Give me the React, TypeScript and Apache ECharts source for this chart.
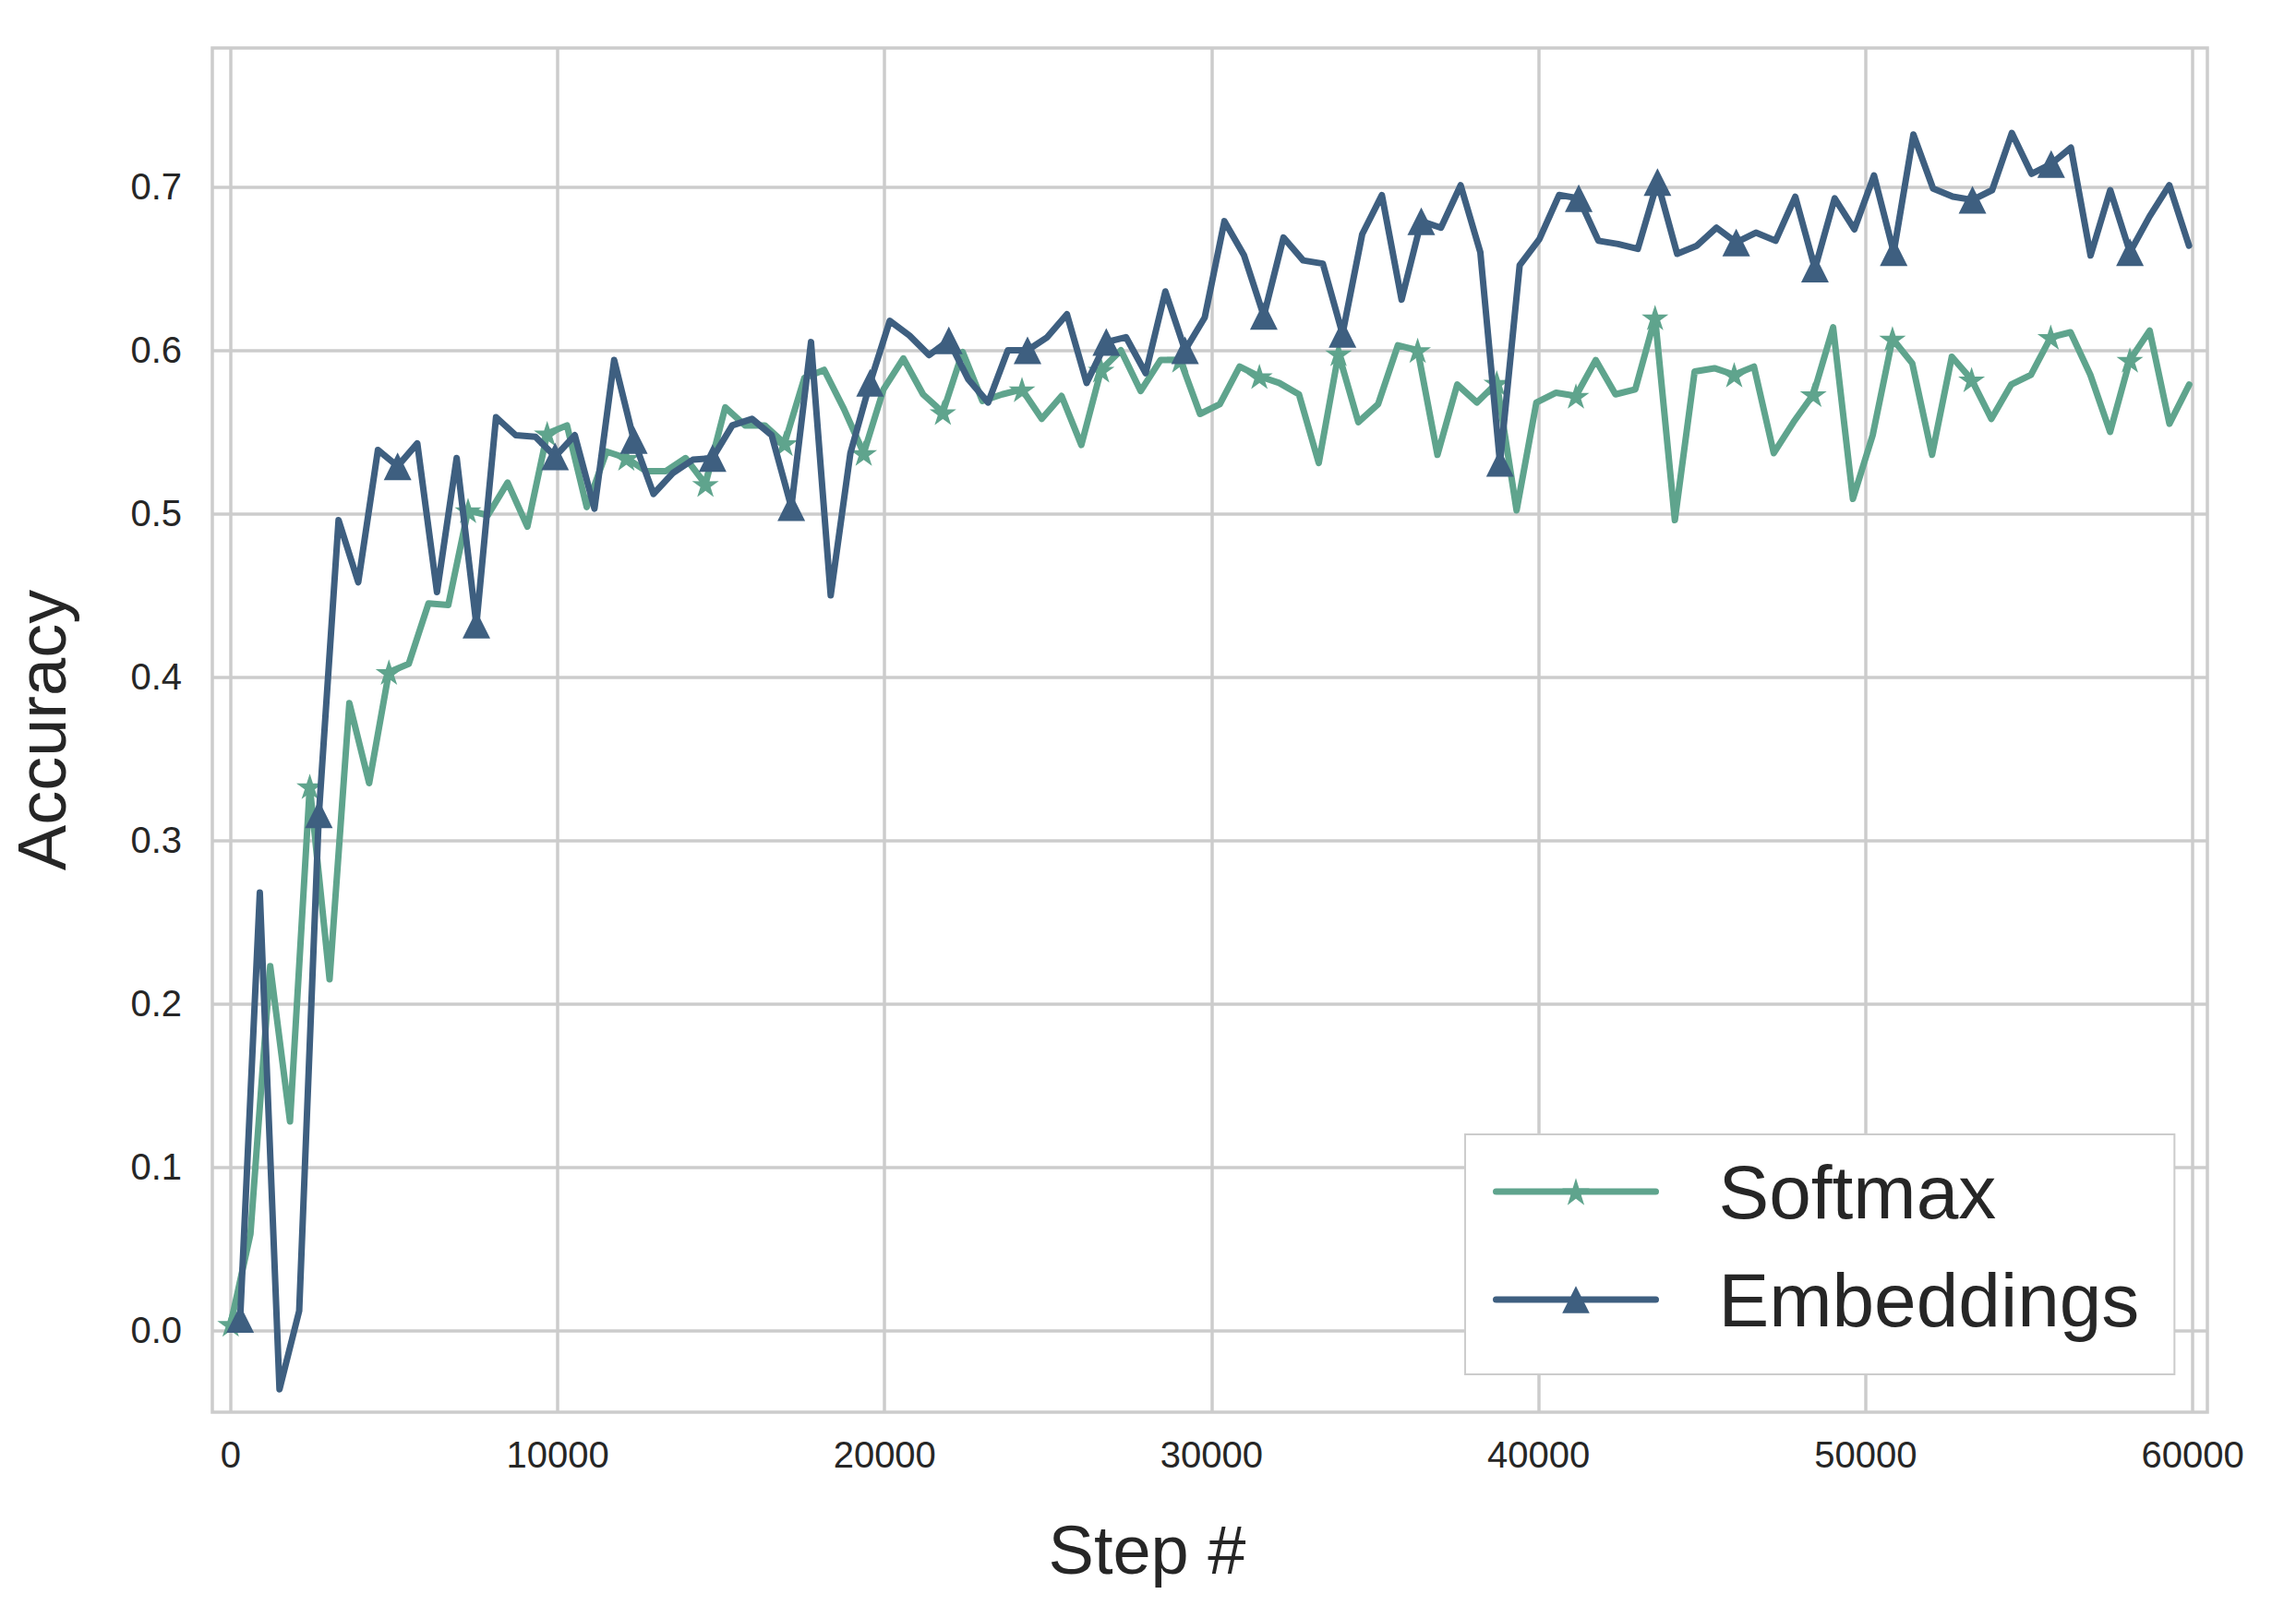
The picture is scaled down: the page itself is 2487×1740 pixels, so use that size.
import React, { useEffect, useRef } from 'react';
import * as echarts from 'echarts';

// Logged training steps: first logged step and logging stride for each run
const softmaxFirstStep = 0;
const softmaxStride = 605;
const embeddingsFirstStep = 290;
const embeddingsStride = 602;

const seriesNames = ['Softmax', 'Embeddings'];

const softmaxAccuracy = [
  0.004, 0.059, 0.223, 0.128, 0.333, 0.215, 0.384, 0.335, 0.403, 0.408,
  0.445, 0.444, 0.502, 0.499, 0.519, 0.492, 0.549, 0.554, 0.504, 0.538,
  0.534, 0.526, 0.526, 0.534, 0.518, 0.565, 0.554, 0.554, 0.543, 0.583,
  0.588, 0.564, 0.537, 0.576, 0.595, 0.573, 0.562, 0.599, 0.569, 0.573,
  0.576, 0.558, 0.572, 0.542, 0.588, 0.600, 0.575, 0.594, 0.594, 0.561,
  0.567, 0.590, 0.584, 0.580, 0.573, 0.531, 0.598, 0.556, 0.567, 0.603,
  0.600, 0.536, 0.579, 0.568, 0.580, 0.502, 0.568, 0.574, 0.572, 0.594,
  0.573, 0.576, 0.620, 0.496, 0.587, 0.589, 0.585, 0.590, 0.537, 0.556,
  0.573, 0.614, 0.509, 0.548, 0.607, 0.592, 0.536, 0.596, 0.582, 0.558,
  0.579, 0.585, 0.608, 0.611, 0.585, 0.550, 0.594, 0.612, 0.555, 0.579,
];

const embeddingsAccuracy = [
  0.007, 0.268, -0.036, 0.012, 0.316, 0.496, 0.458, 0.539, 0.529, 0.543,
  0.452, 0.534, 0.432, 0.559, 0.548, 0.547, 0.535, 0.548, 0.503, 0.594,
  0.545, 0.512, 0.525, 0.533, 0.534, 0.554, 0.558, 0.548, 0.504, 0.605,
  0.450, 0.537, 0.580, 0.618, 0.609, 0.597, 0.606, 0.582, 0.568, 0.600,
  0.600, 0.608, 0.622, 0.580, 0.605, 0.608, 0.586, 0.636, 0.600, 0.620,
  0.679, 0.658, 0.621, 0.669, 0.655, 0.653, 0.610, 0.671, 0.695, 0.631,
  0.679, 0.675, 0.701, 0.660, 0.531, 0.652, 0.668, 0.695, 0.693, 0.667,
  0.665, 0.662, 0.703, 0.659, 0.664, 0.675, 0.666, 0.672, 0.667, 0.694,
  0.650, 0.693, 0.674, 0.707, 0.660, 0.732, 0.699, 0.694, 0.692, 0.698,
  0.733, 0.708, 0.714, 0.724, 0.658, 0.698, 0.660, 0.682, 0.701, 0.664,
];

const xTicks = [0, 10000, 20000, 30000, 40000, 50000, 60000];
const yTicks = [0, 0.1, 0.2, 0.3, 0.4, 0.5, 0.6, 0.7];

const FONT = '"Liberation Sans", Arial, Helvetica, sans-serif';
const TEXT = '#262626';
const GRIDC = '#cccccc';
const GREEN = '#5fa48d';
const BLUE = '#3e5f80';
const MARK_EVERY = 4;
const LINE_W = 7;

const STAR =
  'path://M50 0 L61.17 34.63 L97.55 34.55 L68.07 55.87 L79.39 90.45 L50 69 L20.61 90.45 L31.93 55.87 L2.45 34.55 L38.83 34.63 Z';

function toPoints(values: number[], first: number, stride: number) {
  return values.map((v, i) => [first + i * stride, v]);
}

export default function App() {
  const ref = useRef<HTMLDivElement>(null);
  useEffect(() => {
    document.body.style.margin = '0';
    const chart = echarts.init(ref.current as HTMLDivElement, null, { renderer: 'svg' });
    const option: any = {
      animation: false,
      backgroundColor: '#ffffff',
      grid: {
        left: 230,
        top: 52,
        width: 2161,
        height: 1478,
        show: true,
        borderColor: GRIDC,
        borderWidth: 3.5,
        backgroundColor: 'transparent',
      },
      xAxis: {
        type: 'value',
        min: -560,
        max: 60450,
        name: 'Step #',
        nameLocation: 'middle',
        nameGap: 112,
        nameTextStyle: { fontSize: 74, fontFamily: FONT, color: TEXT, padding: [0, 136, 0, 0] },
        axisLine: { show: false },
        axisTick: { show: false, customValues: xTicks },
        axisLabel: {
          customValues: xTicks,
          fontSize: 40,
          fontFamily: FONT,
          color: TEXT,
          margin: 26,
          formatter: (v: number) => String(v),
        },
        splitLine: { show: true, lineStyle: { color: GRIDC, width: 3.5 } },
      },
      yAxis: {
        type: 'value',
        min: -0.05,
        max: 0.785,
        name: 'Accuracy',
        nameLocation: 'middle',
        nameGap: 148,
        nameRotate: 90,
        nameTextStyle: { fontSize: 74, fontFamily: FONT, color: TEXT },
        axisLine: { show: false },
        axisTick: { show: false, customValues: yTicks },
        axisLabel: {
          customValues: yTicks,
          fontSize: 40,
          fontFamily: FONT,
          color: TEXT,
          margin: 33,
          formatter: (v: number) => v.toFixed(1),
        },
        splitLine: { show: true, lineStyle: { color: GRIDC, width: 3.5 } },
      },
      legend: {
        orient: 'vertical',
        left: 1587,
        top: 1229,
        padding: [21, 38, 40, 30],
        itemWidth: 173,
        itemHeight: 37,
        itemGap: 35,
        backgroundColor: '#ffffff',
        borderColor: GRIDC,
        borderWidth: 2,
        data: seriesNames,
        lineStyle: { width: LINE_W, cap: 'round' },
        textStyle: {
          fontSize: 82,
          lineHeight: 82,
          fontFamily: FONT,
          color: TEXT,
          padding: [0, 0, 0, 63],
        },
      },
      series: [
        {
          name: seriesNames[0],
          type: 'line',
          data: toPoints(softmaxAccuracy, softmaxFirstStep, softmaxStride),
          symbol: STAR,
          symbolKeepAspect: true,
          symbolSize: (_v: any, p: any) => (p.dataIndex % MARK_EVERY === 0 ? 29 : 0),
          showSymbol: true,
          showAllSymbol: true,
          color: GREEN,
          itemStyle: { color: GREEN, borderWidth: 0 },
          lineStyle: { color: GREEN, width: LINE_W, cap: 'round', join: 'round' },
          z: 2,
        },
        {
          name: seriesNames[1],
          type: 'line',
          data: toPoints(embeddingsAccuracy, embeddingsFirstStep, embeddingsStride),
          symbol: 'triangle',
          symbolSize: (_v: any, p: any) => (p.dataIndex % MARK_EVERY === 0 ? 30 : 0),
          showSymbol: true,
          showAllSymbol: true,
          color: BLUE,
          itemStyle: { color: BLUE, borderWidth: 0 },
          lineStyle: { color: BLUE, width: LINE_W, cap: 'round', join: 'round' },
          z: 3,
        },
      ],
    };
    chart.setOption(option);
    return () => chart.dispose();
  }, []);
  return <div ref={ref} style={{ width: 2487, height: 1740, background: '#ffffff' }} />;
}
